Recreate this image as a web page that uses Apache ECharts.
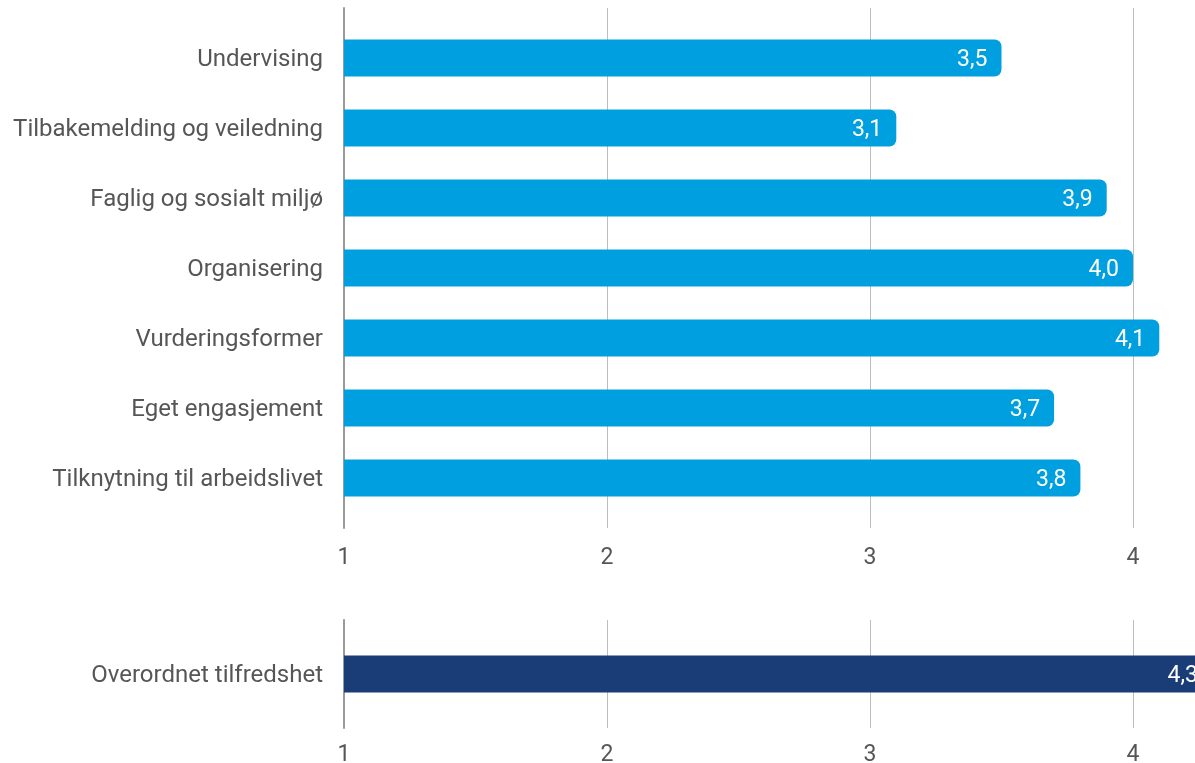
<!DOCTYPE html>
<html>
<head>
<meta charset="utf-8">
<script src="https://cdn.jsdelivr.net/npm/echarts@6/dist/echarts.min.js"></script>
<style>
html,body{margin:0;padding:0;background:#fff;}
#c{width:1195px;height:763px;}
</style>
</head>
<body>
<div id="c"></div>
<script>
const categories = ["Undervising","Tilbakemelding og veiledning","Faglig og sosialt miljø","Organisering","Vurderingsformer","Eget engasjement","Tilknytning til arbeidslivet"];
const values = [3.5, 3.1, 3.9, 4.0, 4.1, 3.7, 3.8];
const overallCategory = ["Overordnet tilfredshet"];
const overallValue = [4.3];
const tickLabels = [1, 2, 3, 4, 5];

const FONT = 'Roboto';
const TEXT = '#565656';
const fmt = v => Number(v).toFixed(1).replace('.', ',');
const gridBase = {left: 344, right: -201, outerBoundsMode: 'none', containLabel: false};

const xBase = (gi, showLabels, margin) => ({
  type: 'value', gridIndex: gi, min: tickLabels[0], max: tickLabels[tickLabels.length-1], interval: 1,
  axisLine: {show: false}, axisTick: {show: false},
  splitLine: {show: showLabels, lineStyle: {color: '#bdbdbd', width: 1}},
  axisLabel: {show: showLabels, color: TEXT, fontFamily: FONT, fontSize: 23, margin: margin,
    formatter: v => String(v)}
});

const catLabel = {
  color: TEXT, fontFamily: FONT, fontSize: 24, margin: 21,
  formatter: v => '{a|' + v + '}',
  rich: {a: {color: TEXT, fontFamily: FONT, fontSize: 24, padding: [4, 0, 0, 0]}}
};

const valLabel = {show: true, position: 'insideRight', distance: 14, color: '#fff',
  fontFamily: FONT, fontSize: 23, offset: [0, 2], formatter: p => fmt(p.value)};

const chart = echarts.init(document.getElementById('c'));
chart.setOption({
  animation: false,
  backgroundColor: '#fff',
  grid: [
    Object.assign({top: 8, height: 520}, gridBase),
    Object.assign({top: 23, height: 490}, gridBase),
    Object.assign({top: 620, height: 108}, gridBase)
  ],
  xAxis: [xBase(0, true, 19), xBase(1, false, 0), xBase(2, true, 16)],
  yAxis: [
    {type: 'value', gridIndex: 0, min: 0, max: 1,
      axisLine: {show: true, onZero: false, lineStyle: {color: '#9a9a9a', width: 2}},
      axisTick: {show: false}, axisLabel: {show: false}, splitLine: {show: false}},
    {type: 'category', gridIndex: 1, data: categories, inverse: true,
      axisLine: {show: false}, axisTick: {show: false}, splitLine: {show: false},
      axisLabel: catLabel},
    {type: 'category', gridIndex: 2, data: overallCategory, inverse: true,
      axisLine: {show: true, onZero: false, lineStyle: {color: '#9a9a9a', width: 2}},
      axisTick: {show: false}, splitLine: {show: false},
      axisLabel: catLabel}
  ],
  series: [
    {type: 'bar', xAxisIndex: 1, yAxisIndex: 1, data: values, barWidth: 37,
      itemStyle: {color: '#009fdf', borderRadius: [0, 7, 7, 0]}, label: valLabel},
    {type: 'bar', xAxisIndex: 2, yAxisIndex: 2, data: overallValue, barWidth: 37,
      itemStyle: {color: '#1a3d78', borderRadius: [0, 7, 7, 0]}, label: valLabel}
  ]
});
</script>
</body>
</html>
